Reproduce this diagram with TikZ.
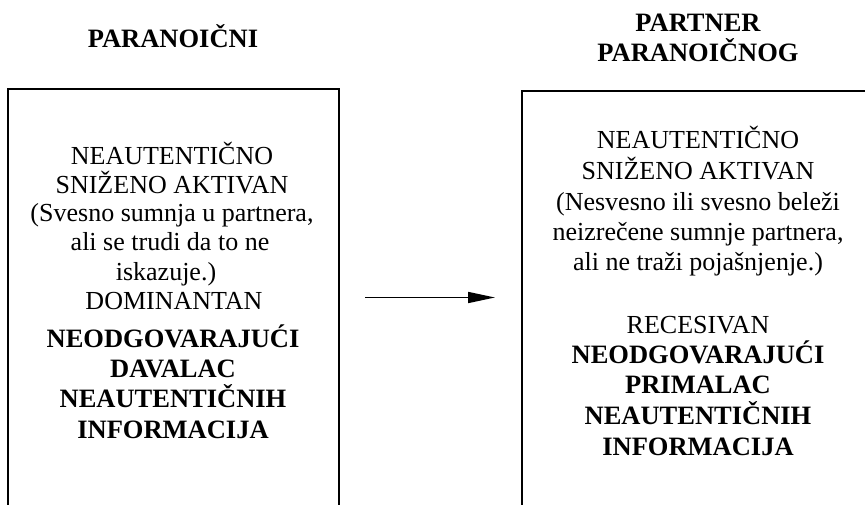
\documentclass[tikz,border=0pt]{standalone}
\usepackage{fontspec}
\setmainfont{Liberation Serif}
\usetikzlibrary{arrows.meta}
\begin{document}
\begin{tikzpicture}[x=1pt,y=-1pt,
  frame/.style={line width=2pt},
  txt/.style={anchor=base, inner sep=0pt, font=\fontsize{26}{30}\selectfont},
  strong/.style={txt, font=\fontsize{26.5}{30}\selectfont\bfseries},
  flow/.style={line width=1.6pt, -{Triangle[length=27pt,width=11pt]}}]
\useasboundingbox (0,0) rectangle (865,505);

% column headings
\node[strong] (titleL)  at (173,48)   {PARANOIČNI};
\node[strong] (titleR1) at (698,31.7) {PARTNER};
\node[strong] (titleR2) at (698,61.7) {PARANOIČNOG};

% frames, open at the bottom
\draw[frame] (7.5,506) -- (7.5,89) -- (338.5,89) -- (338.5,506);
\draw[frame] (521.5,506) -- (521.5,90.7) -- (875,90.7) -- (875,506);

% left column text
\node[txt] (l1) at (172,165)   {NEAUTENTIČNO};
\node[txt] (l2) at (172,193.5) {SNIŽENO AKTIVAN};
\node[txt] (l3) at (172,222)   {(Svesno sumnja u partnera,};
\node[txt] (l4) at (170,250.5) {ali se trudi da to ne};
\node[txt] (l5) at (166,280)   {iskazuje.)};
\node[txt] (l6) at (174,309.5) {DOMINANTAN};
\node[strong] (l7)  at (173,347)   {NEODGOVARAJUĆI};
\node[strong] (l8)  at (173,377)   {DAVALAC};
\node[strong] (l9)  at (173,407.5) {NEAUTENTIČNIH};
\node[strong] (l10) at (173,438)   {INFORMACIJA};

% right column text
\node[txt] (r1) at (698,149) {NEAUTENTIČNO};
\node[txt] (r2) at (698,180) {SNIŽENO AKTIVAN};
\node[txt] (r3) at (698,211) {(Nesvesno ili svesno beleži};
\node[txt] (r4) at (698,241) {neizrečene sumnje partnera,};
\node[txt] (r5) at (698,270) {ali ne traži pojašnjenje.)};
\node[txt] (r6) at (698,333) {RECESIVAN};
\node[strong] (r7)  at (698,363) {NEODGOVARAJUĆI};
\node[strong] (r8)  at (698,393) {PRIMALAC};
\node[strong] (r9)  at (698,424) {NEAUTENTIČNIH};
\node[strong] (r10) at (698,455) {INFORMACIJA};

% arrow between the columns
\coordinate (from) at (365,297.5);
\coordinate (to)   at (495,297.5);
\draw[flow] (from) -- (to);
\end{tikzpicture}
\end{document}
